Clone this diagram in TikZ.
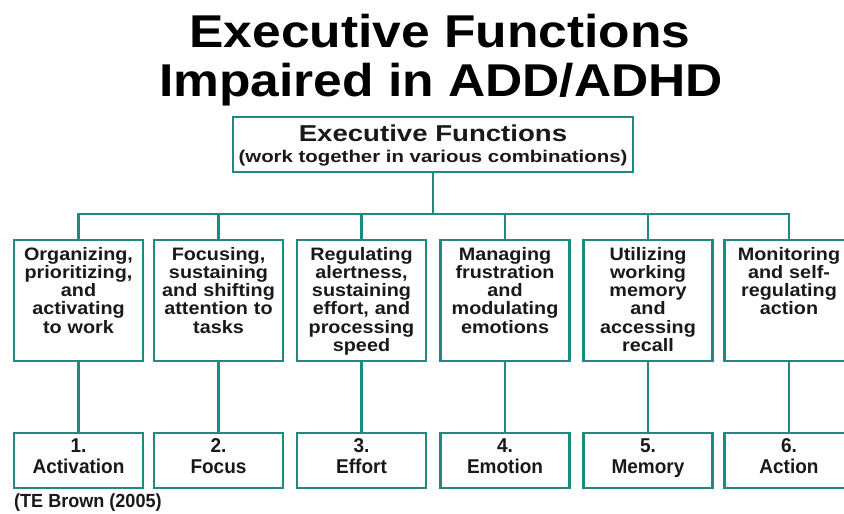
\documentclass[tikz,border=0pt]{standalone}
\usepackage{fontspec}
\setmainfont{Liberation Sans}
\newfontfamily\titlef[FakeStretch=1.12]{Liberation Sans}
\newfontfamily\topf[FakeStretch=1.2]{Liberation Sans}
\newfontfamily\midf[FakeStretch=1.1]{Liberation Sans}
\newfontfamily\botf[FakeStretch=0.95]{Liberation Sans}
\definecolor{teal1}{RGB}{30,138,128}
\definecolor{ink}{RGB}{25,25,25}
\tikzset{
  box/.style={draw=teal1, line width=2.8pt, fill=white, inner sep=0pt, minimum width=129pt},
  midbox/.style={box, minimum height=121pt},
  botbox/.style={box, minimum height=55pt},
  midtext/.style={anchor=north, inner sep=0pt, align=center, text width=127pt, text=ink,
    font={\midf\bfseries\fontsize{18}{18.2}\selectfont}},
  bottext/.style={anchor=north, inner sep=0pt, align=center, text width=127pt, text=ink,
    font={\botf\bfseries\fontsize{20}{21}\selectfont}},
  conn/.style={draw=teal1, line width=2.8pt},
}
\begin{document}
\begin{tikzpicture}[x=1pt,y=-1pt]
\useasboundingbox[fill=white] (0,0) rectangle (844,514);
% title
\node[anchor=base, inner sep=0pt, font={\titlef\bfseries\fontsize{46}{46}\selectfont}, text=black] (t1) at (440,47) {Executive Functions};
\node[anchor=base, inner sep=0pt, font={\titlef\bfseries\fontsize{46}{46}\selectfont}, text=black] (t2) at (441,96) {Impaired in ADD/ADHD};
% top box
\node[box, minimum width=400pt, minimum height=55pt] (top) at (433,144.5) {};
\node[anchor=base, inner sep=0pt, text=ink, font={\topf\bfseries\fontsize{23}{23}\selectfont}] (topt) at (433,141) {Executive Functions};
\node[anchor=base, inner sep=0pt, text=ink, font={\topf\bfseries\fontsize{17}{17}\selectfont}] (tops) at (433,162) {(work together in various combinations)};
\coordinate (bus) at (433,214);
% middle and bottom boxes
\foreach \i/\x in {1/78.5,2/218.5,3/361.5,4/505,5/648,6/789}{
  \node[midbox] (m\i) at (\x,300.5) {};
  \node[botbox] (b\i) at (\x,460.5) {};
}
\draw[conn] (top.south) -- (bus);
\foreach \i in {1,...,6}{
  \draw[conn] (m\i.north) |- (bus);
  \draw[conn] (m\i.south) -- (b\i.north);
}
\node[midtext] (m1t) at ([yshift=-8.5pt]m1.north) {Organizing,\\prioritizing,\\and\\activating\\to work};
\node[midtext] (m2t) at ([yshift=-8.5pt]m2.north) {Focusing,\\sustaining\\and shifting\\attention to\\tasks};
\node[midtext] (m3t) at ([yshift=-8.5pt]m3.north) {Regulating\\alertness,\\sustaining\\effort, and\\processing\\speed};
\node[midtext] (m4t) at ([yshift=-8.5pt]m4.north) {Managing\\frustration\\and\\modulating\\emotions};
\node[midtext] (m5t) at ([yshift=-8.5pt]m5.north) {Utilizing\\working\\memory\\and\\accessing\\recall};
\node[midtext] (m6t) at ([yshift=-8.5pt]m6.north) {Monitoring\\and self-\\regulating\\action};
\node[bottext] (b1t) at ([yshift=-7pt]b1.north) {1.\\Activation};
\node[bottext] (b2t) at ([yshift=-7pt]b2.north) {2.\\Focus};
\node[bottext] (b3t) at ([yshift=-7pt]b3.north) {3.\\Effort};
\node[bottext] (b4t) at ([yshift=-7pt]b4.north) {4.\\Emotion};
\node[bottext] (b5t) at ([yshift=-7pt]b5.north) {5.\\Memory};
\node[bottext] (b6t) at ([yshift=-7pt]b6.north) {6.\\Action};
\node[anchor=base west, inner sep=0pt, text=ink, font={\botf\bfseries\fontsize{19}{19}\selectfont}] (src) at (14,507) {(TE Brown (2005)};
\end{tikzpicture}
\end{document}
